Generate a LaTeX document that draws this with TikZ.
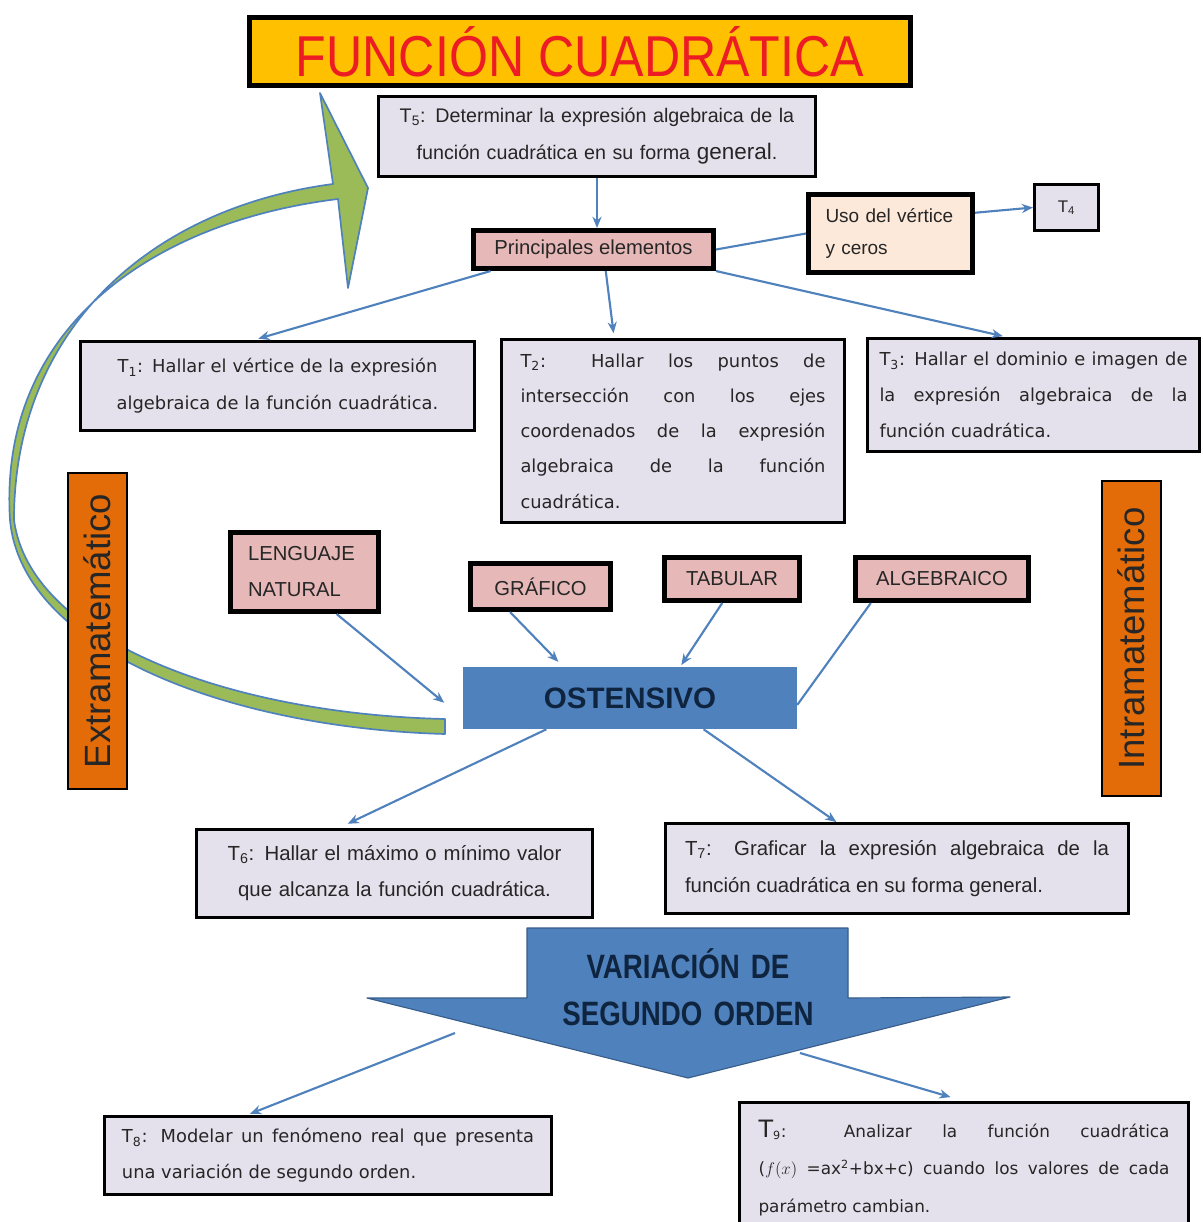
\documentclass[tikz,border=0pt]{standalone}
\usepackage{fontspec}
\setmainfont{Liberation Sans}
\newfontfamily\widefont{DejaVu Sans}
\newfontfamily\titlefont[FakeStretch=0.87]{Liberation Sans}
\newfontfamily\narrowfont[FakeStretch=0.82]{Liberation Sans}
\usetikzlibrary{arrows.meta,calc}
\definecolor{cmgold}{RGB}{255,192,0}
\definecolor{cmred}{RGB}{237,28,36}
\definecolor{cmlav}{RGB}{229,225,236}
\definecolor{cmrose}{RGB}{230,185,184}
\definecolor{cmpeach}{RGB}{253,233,217}
\definecolor{cmorange}{RGB}{227,108,9}
\definecolor{cmblue}{RGB}{79,129,189}
\definecolor{cmedge}{RGB}{56,93,138}
\definecolor{cmgreen}{RGB}{155,187,89}
\definecolor{cmink}{RGB}{38,38,38}
\definecolor{cmnavy}{RGB}{15,36,62}
\tikzset{
  cmtask/.style={draw=black, line width=2.1pt, fill=cmlav, inner sep=0pt, text=cmink},
  cmkey/.style={draw=black, line width=3.6pt, fill=cmrose, inner sep=0pt, text=cmink, font=\fontsize{14.4}{25.6}\selectfont},
  cmside/.style={draw=black, line width=1.5pt, fill=cmorange, inner sep=0pt, rotate=90, text=cmink, font=\fontsize{26}{26}\selectfont},
  cmlink/.style={draw=cmblue, line width=1.5pt, -{Stealth[length=8pt,width=6.5pt]}},
  cmline/.style={draw=cmblue, line width=1.5pt},
  cmbend/.style={fill=cmgreen, draw=cmblue, line width=1.2pt, line join=round},
  cmbig/.style={fill=cmblue, draw=cmedge, line width=0.8pt, line join=round},
}
\begin{document}
\begin{tikzpicture}[x=0.25mm,y=-0.25mm]
\useasboundingbox (0,0) rectangle (1203,1222);
\clip (0,0) rectangle (1203,1222);
\fill[white] (0,0) rectangle (1203,1222);
\draw[cmbend] (445,734) .. controls (230,728) and (22,650) .. (10,520) .. controls (-2,330) and (150,222) .. (338,199) -- (348,288) -- (368,188) -- (320,93) -- (333,184) .. controls (150,208) and (14,330) .. (14,520) .. controls (30,640) and (230,714) .. (445,719) -- cycle;
\node[draw=black, line width=3.6pt, fill=cmgold, inner sep=0pt, minimum width=165.25mm, minimum height=17mm, text=cmred, font=\titlefont\fontsize{41}{41}\selectfont] (title) at (580,51.5) {FUNCIÓN CUADRÁTICA};
\node[cmtask, minimum width=109.25mm, minimum height=20mm, text width=105mm, align=center, font=\fontsize{14}{26.3}\selectfont] (t5) at (597,136.5) {T\textsubscript{5}: Determinar la expresión algebraica de la\\función cuadrática en su forma {\fontsize{16}{26.3}\selectfont general}.};
\node[cmkey, minimum width=60mm, minimum height=9.5mm] (pe) at (593.5,249.5) {Principales elementos};
\node[cmkey, fill=cmpeach, minimum width=41mm, minimum height=19.5mm, text width=32.5mm, align=left, font=\fontsize{13.5}{22.8}\selectfont] (uso) at (890.5,233.5) {Uso del vértice\\y ceros};
\node[cmtask, minimum width=16mm, minimum height=11.5mm, font=\fontsize{12}{12}\selectfont] (t4) at (1066.5,207.5) {T\textsubscript{4}};
\node[cmtask, minimum width=98.5mm, minimum height=22.25mm, text width=90mm, align=center, font=\widefont\fontsize{12.7}{26.3}\selectfont] (t1) at (277.5,386) {T\textsubscript{1}: Hallar el vértice de la expresión\\algebraica de la función cuadrática.};
\node[cmtask, minimum width=85.75mm, minimum height=45.75mm, text width=76.25mm, align=justify, font=\widefont\fontsize{12.7}{25.1}\selectfont] (t2) at (673,431) {T\textsubscript{2}: Hallar los puntos de\linebreak intersección con los ejes\linebreak coordenados de la expresión\linebreak algebraica de la función\linebreak cuadrática.};
\node[cmtask, minimum width=83mm, minimum height=28.25mm, text width=77mm, align=justify, font=\widefont\fontsize{12.7}{25.6}\selectfont] (t3) at (1033.5,395) {T\textsubscript{3}: Hallar el dominio e imagen de\linebreak la expresión algebraica de la\linebreak función cuadrática.};
\node[cmside, minimum width=79mm, minimum height=14.75mm] (extra) at (97.5,631) {Extramatemático};
\node[cmside, minimum width=78.75mm, minimum height=14.75mm] (intra) at (1131.5,638.5) {Intramatemático};
\node[cmkey, minimum width=37mm, minimum height=19.75mm, text width=28.25mm, align=left] (len) at (304.5,572) {LENGUAJE\\NATURAL};
\node[cmkey, minimum width=35mm, minimum height=11.5mm] (graf) at (540.5,586.5) {GRÁFICO};
\node[cmkey, minimum width=33.75mm, minimum height=10.75mm] (tab) at (732,579) {TABULAR};
\node[cmkey, minimum width=43.25mm, minimum height=10.75mm] (alg) at (942,579) {ALGEBRAICO};
\node[fill=cmblue, inner sep=0pt, minimum width=83.5mm, minimum height=15.5mm, text=cmnavy, font=\bfseries\fontsize{21}{21}\selectfont] (ost) at (630,698) {OSTENSIVO};
\node[cmtask, minimum width=99mm, minimum height=22mm, text width=95mm, align=center, font=\fontsize{14.5}{25.6}\selectfont] (t6) at (394.5,873.5) {T\textsubscript{6}: Hallar el máximo o mínimo valor\\que alcanza la función cuadrática.};
\node[cmtask, minimum width=115.75mm, minimum height=22.5mm, text width=106mm, align=justify, font=\fontsize{14.5}{26.3}\selectfont] (t7) at (897,868.5) {T\textsubscript{7}: Graficar la expresión algebraica de la\linebreak función cuadrática en su forma general.};
\draw[cmbig] (527,928) -- (848,928) -- (848,998) -- (1010,997) -- (688,1078) -- (367,998) -- (527,998) -- cycle;
\node[text width=80mm, align=center, text=cmnavy, font=\narrowfont\bfseries\fontsize{24}{33.4}\selectfont] (var) at (688,987) {VARIACIÓN DE\\SEGUNDO ORDEN};
\node[cmtask, minimum width=111.75mm, minimum height=19.5mm, text width=103mm, align=justify, font=\widefont\fontsize{12.7}{25.6}\selectfont] (t8) at (328,1155.5) {T\textsubscript{8}: Modelar un fenómeno real que presenta\linebreak una variación de segundo orden.};
\node[cmtask, minimum width=112.25mm, minimum height=32.75mm, text width=102.75mm, align=justify, font=\widefont\fontsize{12}{26.7}\selectfont] (t9) at (964,1168) {{\fontsize{17}{17}\selectfont T}\textsubscript{9}: Analizar la función cuadrática\linebreak ($f(x)$ =ax\textsuperscript{2}+bx+c) cuando los valores de cada\linebreak parámetro cambian.};
\coordinate (vl) at (455,1033);
\coordinate (vr) at (800,1053);
\draw[cmlink] (t5.south) -- (t5.south |- pe.north);
\draw[cmline] (pe.east) -- (uso.west);
\draw[cmlink] ($(uso.north east)!.25!(uso.south east)$) -- (t4.west);
\draw[cmlink, shorten >=1.2mm] ($(pe.south west)!.08!(pe.south east)$) -- ($(t1.north west)!.44!(t1.north east)$);
\draw[cmlink, shorten >=1.2mm] ($(pe.south west)!.55!(pe.south east)$) -- ($(t2.north west)!.33!(t2.north east)$);
\draw[cmlink, shorten >=1mm] (pe.south east) -- ($(t3.north west)!.42!(t3.north east)$);
\draw[cmlink, shorten >=6mm] ($(len.south west)!.71!(len.south east)$) -- ($(ost.north west)!.82!(ost.south west)$);
\draw[cmlink, shorten >=1.7mm] ($(graf.south west)!.29!(graf.south east)$) -- ($(ost.north west)!.3!(ost.north east)$);
\draw[cmlink, shorten >=0.5mm] ($(tab.south west)!.43!(tab.south east)$) -- ($(ost.north west)!.65!(ost.north east)$);
\draw[cmline] ($(alg.south west)!.1!(alg.south east)$) -- ($(ost.north east)!.61!(ost.south east)$);
\draw[cmlink, shorten >=2.5mm] ($(ost.south west)!.25!(ost.south east)$) -- ($(t6.north west)!.36!(t6.north east)$);
\draw[cmlink] ($(ost.south west)!.72!(ost.south east)$) -- ($(t7.north west)!.37!(t7.north east)$);
\draw[cmlink, shorten >=0.8mm] (vl) -- ($(t8.north west)!.32!(t8.north east)$);
\draw[cmlink, shorten >=3.5mm] (vr) -- (t9.north);
\end{tikzpicture}
\end{document}
